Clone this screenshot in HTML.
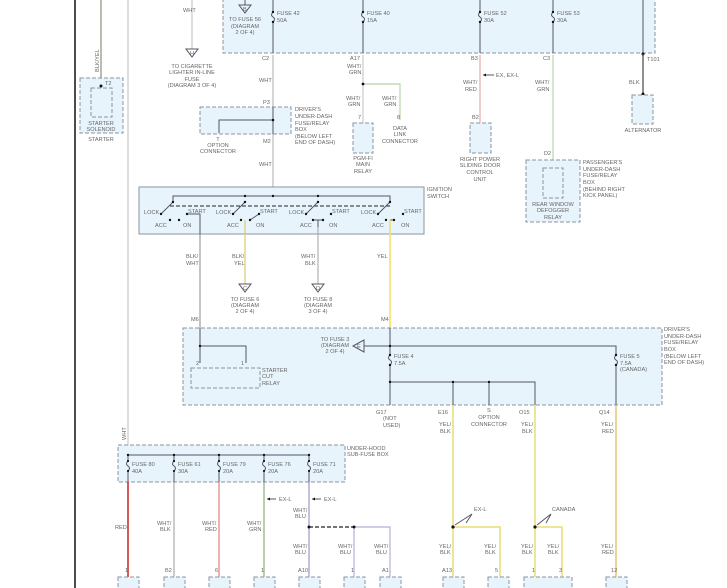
<!DOCTYPE html>
<html><head><meta charset="utf-8"><style>
html,body{margin:0;padding:0;background:#fff;}
svg{display:block;}
text{font-family:"Liberation Sans",sans-serif;font-size:5.6px;fill:#666;}
.bx{fill:#e8f4fc;stroke:#8896a2;stroke-width:1;stroke-dasharray:4,2;}
.sb{fill:#e8f4fc;stroke:#8896a2;stroke-width:1;}
.w{fill:none;stroke:#556;stroke-width:1;}
.d{fill:#111;}
</style></head><body>
<svg width="727" height="588" viewBox="0 0 727 588" xmlns="http://www.w3.org/2000/svg">
<rect width="727" height="588" fill="#fff"/>
<line x1="75" y1="0" x2="75" y2="588" stroke="#111" stroke-width="1.5"/>

<!-- top box -->
<rect class="bx" x="223" y="-4" width="432" height="57"/>
<g class="w">
<line x1="273" y1="0" x2="273" y2="12"/><path d="M273 12 q-3 3 0 5 q3 2 0 5"/><line x1="273" y1="22" x2="273" y2="53"/>
<line x1="363" y1="0" x2="363" y2="12"/><path d="M363 12 q-3 3 0 5 q3 2 0 5"/><line x1="363" y1="22" x2="363" y2="53"/>
<line x1="480" y1="0" x2="480" y2="12"/><path d="M480 12 q-3 3 0 5 q3 2 0 5"/><line x1="480" y1="22" x2="480" y2="53"/>
<line x1="553" y1="0" x2="553" y2="12"/><path d="M553 12 q-3 3 0 5 q3 2 0 5"/><line x1="553" y1="22" x2="553" y2="53"/>
<line x1="643" y1="0" x2="643" y2="55"/>
<line x1="245" y1="0" x2="245" y2="5"/><path d="M239 5 L251 5 L245 13 Z"/>
</g>
<g class="d"><circle cx="273" cy="12" r="1.2"/><circle cx="273" cy="22" r="1.2"/><circle cx="363" cy="12" r="1.2"/><circle cx="363" cy="22" r="1.2"/><circle cx="480" cy="12" r="1.2"/><circle cx="480" cy="22" r="1.2"/><circle cx="553" cy="12" r="1.2"/><circle cx="553" cy="22" r="1.2"/><circle cx="643" cy="54" r="1.5"/></g>
<text x="243" y="11" font-size="4.5">B</text>
<text x="245" y="21" text-anchor="middle">TO FUSE 56</text><text x="245" y="28" text-anchor="middle">(DIAGRAM</text><text x="245" y="34" text-anchor="middle">2 OF 4)</text>
<text x="277" y="15">FUSE 42</text><text x="277" y="22">50A</text>
<text x="367" y="15">FUSE 40</text><text x="367" y="22">15A</text>
<text x="484" y="15">FUSE 52</text><text x="484" y="22">30A</text>
<text x="557" y="15">FUSE 53</text><text x="557" y="22">30A</text>

<!-- cigarette -->
<line x1="192" y1="0" x2="192" y2="49" stroke="#ccc" stroke-width="1.3"/>
<path d="M186 49 L198 49 L192 57 Z" class="w"/><text x="190" y="55" font-size="4.5">H</text>
<text x="183" y="12">WHT</text>
<text x="192" y="68" text-anchor="middle">TO CIGARETTE</text><text x="192" y="74" text-anchor="middle">LIGHTER IN-LINE</text><text x="192" y="81" text-anchor="middle">FUSE</text><text x="192" y="87" text-anchor="middle">(DIAGRAM 3 OF 4)</text>

<!-- starter -->
<line x1="101" y1="0" x2="101" y2="86" stroke="#776" stroke-width="1"/>
<line x1="128" y1="0" x2="128" y2="455" stroke="#ccc" stroke-width="1.3"/>
<text transform="translate(99,72) rotate(-90)" font-size="5">BLK/YEL</text>
<rect class="bx" x="80" y="78" width="43" height="55"/>
<rect class="bx" x="91" y="88" width="21" height="29"/>
<circle cx="101" cy="86" r="1.5" class="d"/><text x="105" y="85">T2</text>
<text x="101" y="125" text-anchor="middle">STARTER</text><text x="101" y="131" text-anchor="middle">SOLENOID</text><text x="101" y="141" text-anchor="middle">STARTER</text>

<!-- C2 path -->
<line x1="273" y1="55" x2="273" y2="196" stroke="#bbb" stroke-width="1.2"/>
<text x="262" y="60">C2</text><text x="259" y="82">WHT</text><text x="259" y="166">WHT</text>
<rect class="bx" x="200" y="107" width="91" height="27"/>
<path class="w" d="M273 107 V134 M273 120 H219 V133"/><circle cx="273" cy="120" r="1.3" class="d"/>
<text x="263" y="104">P3</text><text x="263" y="143">M2</text>
<text x="218" y="141" text-anchor="middle">T</text><text x="218" y="147" text-anchor="middle">OPTION</text><text x="218" y="153" text-anchor="middle">CONNECTOR</text>
<text x="295" y="111">DRIVER'S</text><text x="295" y="118">UNDER-DASH</text><text x="295" y="125">FUSE/RELAY</text><text x="295" y="131">BOX</text><text x="295" y="138">(BELOW LEFT</text><text x="295" y="144">END OF DASH)</text>

<!-- A17 -->
<line x1="363" y1="55" x2="363" y2="123" stroke="#ccc" stroke-width="1.2"/>
<path d="M363 84 H400 V120" fill="none" stroke="#b8d4a8" stroke-width="1.2"/><circle cx="363" cy="84" r="1.4" class="d"/>
<text x="350" y="60">A17</text><text x="347" y="68">WHT/</text><text x="349" y="74">GRN</text>
<text x="346" y="100">WHT/</text><text x="348" y="106">GRN</text>
<text x="382" y="100">WHT/</text><text x="384" y="106">GRN</text>
<rect class="bx" x="353" y="123" width="20" height="30"/><text x="358" y="119">7</text>
<text x="363" y="160" text-anchor="middle">PGM-FI</text><text x="363" y="166" text-anchor="middle">MAIN</text><text x="363" y="173" text-anchor="middle">RELAY</text>
<text x="397" y="119">8</text><text x="400" y="130" text-anchor="middle">DATA</text><text x="400" y="136" text-anchor="middle">LINK</text><text x="400" y="143" text-anchor="middle">CONNECTOR</text>

<!-- B3 -->
<line x1="480" y1="55" x2="480" y2="123" stroke="#e8a8a8" stroke-width="1.2"/>
<path class="w" d="M483 75 H494"/><path d="M483 75 l3 -1.5 v3z" class="d"/>
<text x="496" y="77">EX, EX-L</text><text x="471" y="60">B3</text>
<text x="463" y="84">WHT/</text><text x="465" y="91">RED</text>
<rect class="bx" x="470" y="123" width="21" height="30"/><text x="472" y="119">B2</text>
<text x="480" y="161" text-anchor="middle">RIGHT POWER</text><text x="480" y="167" text-anchor="middle">SLIDING DOOR</text><text x="480" y="174" text-anchor="middle">CONTROL</text><text x="480" y="181" text-anchor="middle">UNIT</text>

<!-- C3 -->
<line x1="553" y1="55" x2="553" y2="168" stroke="#b8d4a8" stroke-width="1.2"/>
<text x="543" y="60">C3</text><text x="535" y="84">WHT/</text><text x="537" y="91">GRN</text><text x="544" y="155">D2</text>
<rect class="bx" x="526" y="160" width="54" height="62"/><rect class="bx" x="543" y="168" width="20" height="30"/>
<text x="553" y="206" text-anchor="middle">REAR WINDOW</text><text x="553" y="212" text-anchor="middle">DEFOGGER</text><text x="553" y="219" text-anchor="middle">RELAY</text>
<text x="583" y="164">PASSENGER'S</text><text x="583" y="171">UNDER-DASH</text><text x="583" y="177">FUSE/RELAY</text><text x="583" y="184">BOX</text><text x="583" y="191">(BEHIND RIGHT</text><text x="583" y="197">KICK PANEL)</text>

<!-- T101 -->
<line x1="643" y1="54" x2="643" y2="94" stroke="#555" stroke-width="1.3"/><circle cx="643" cy="94" r="1.5" class="d"/>
<text x="647" y="61">T101</text><text x="629" y="84">BLK</text>
<rect class="bx" x="632" y="95" width="21" height="29"/>
<text x="643" y="132" text-anchor="middle">ALTERNATOR</text>

<!-- ignition switch -->
<rect class="sb" x="139" y="187" width="285" height="47"/>
<text x="427" y="191">IGNITION</text><text x="427" y="198">SWITCH</text>
<path class="w" d="M173 202 V196 H390 V202"/>
<line x1="170" y1="206" x2="392" y2="206" stroke="#222" stroke-width="1" stroke-dasharray="4,2"/>
<g class="w">
<path d="M173 202 L161 214"/><path d="M245 202 L233 214"/><path d="M318 202 L306 214"/><path d="M390 202 L378 214"/>
<path d="M187 214 H200 V321"/>
<path d="M259 214 L250 220"/>
<path d="M313 220 H323 M318 220 V227 H318"/>
<path d="M394 220 H390"/>
</g>
<g class="d">
<circle cx="173" cy="202" r="1.2"/><circle cx="161" cy="214" r="1.2"/><circle cx="170" cy="220" r="1.2"/><circle cx="179" cy="220" r="1.2"/><circle cx="187" cy="214" r="1.2"/>
<circle cx="245" cy="196" r="1.2"/><circle cx="245" cy="202" r="1.2"/><circle cx="233" cy="214" r="1.2"/><circle cx="241" cy="220" r="1.2"/><circle cx="250" cy="220" r="1.2"/><circle cx="259" cy="214" r="1.2"/>
<circle cx="273" cy="196" r="1.2"/>
<circle cx="318" cy="196" r="1.2"/><circle cx="318" cy="202" r="1.2"/><circle cx="306" cy="214" r="1.2"/><circle cx="313" cy="220" r="1.2"/><circle cx="323" cy="220" r="1.2"/><circle cx="331" cy="214" r="1.2"/>
<circle cx="390" cy="202" r="1.2"/><circle cx="378" cy="214" r="1.2"/><circle cx="386" cy="220" r="1.2"/><circle cx="394" cy="220" r="1.2"/><circle cx="403" cy="214" r="1.2"/>
</g>
<g>
<text x="144" y="214">LOCK</text><text x="155" y="227">ACC</text><text x="183" y="227">ON</text><text x="188" y="213">START</text>
<text x="216" y="214">LOCK</text><text x="227" y="227">ACC</text><text x="256" y="227">ON</text><text x="260" y="213">START</text>
<text x="289" y="214">LOCK</text><text x="300" y="227">ACC</text><text x="329" y="227">ON</text><text x="332" y="213">START</text>
<text x="361" y="214">LOCK</text><text x="372" y="227">ACC</text><text x="401" y="227">ON</text><text x="404" y="213">START</text>
</g>
<line x1="245" y1="220" x2="245" y2="284" stroke="#d8cc70" stroke-width="1.2"/>
<line x1="318" y1="227" x2="318" y2="284" stroke="#aaa" stroke-width="1.1"/>
<line x1="390" y1="220" x2="390" y2="328" stroke="#f0e060" stroke-width="1.5"/>
<line x1="200" y1="234" x2="200" y2="328" stroke="#888" stroke-width="1"/>
<text x="186" y="258">BLK/</text><text x="186" y="265">WHT</text>
<text x="232" y="258">BLK/</text><text x="234" y="265">YEL</text>
<text x="301" y="258">WHT/</text><text x="305" y="265">BLK</text>
<text x="377" y="258">YEL</text>
<path class="w" d="M239 284 L251 284 L245 292 Z"/><text x="243" y="290" font-size="4.5">C</text>
<path class="w" d="M312 284 L324 284 L318 292 Z"/><text x="316" y="290" font-size="4.5">D</text>
<text x="245" y="301" text-anchor="middle">TO FUSE 6</text><text x="245" y="307" text-anchor="middle">(DIAGRAM</text><text x="245" y="313" text-anchor="middle">2 OF 4)</text>
<text x="318" y="301" text-anchor="middle">TO FUSE 8</text><text x="318" y="307" text-anchor="middle">(DIAGRAM</text><text x="318" y="313" text-anchor="middle">3 OF 4)</text>
<text x="191" y="321">M6</text><text x="381" y="321">M4</text>

<!-- driver's box 2 -->
<rect class="bx" x="183" y="328" width="479" height="77"/>
<text x="664" y="331">DRIVER'S</text><text x="664" y="338">UNDER-DASH</text><text x="664" y="344">FUSE/RELAY</text><text x="664" y="351">BOX</text><text x="664" y="358">(BELOW LEFT</text><text x="664" y="364">END OF DASH)</text>
<g class="w">
<path d="M200 328 V363 M200 346 H246 V363"/>
<path d="M390 328 V355"/><path d="M390 355 q-3 3 0 5 q3 2 0 5"/><path d="M390 365 V405"/>
<path d="M364 346 H616 V355"/><path d="M616 355 q-3 3 0 5 q3 2 0 5"/><path d="M616 365 V405"/>
<path d="M390 382 H535 V405 M453 382 V405 M489 382 V405"/>
<path d="M353 346 L364 340 L364 352 Z"/>
</g>
<text x="357" y="348" font-size="4.5">E</text>
<g class="d"><circle cx="200" cy="346" r="1.2"/><circle cx="390" cy="346" r="1.2"/><circle cx="390" cy="355" r="1.2"/><circle cx="390" cy="365" r="1.2"/><circle cx="390" cy="382" r="1.2"/><circle cx="453" cy="382" r="1.2"/><circle cx="489" cy="382" r="1.2"/><circle cx="616" cy="355" r="1.2"/><circle cx="616" cy="365" r="1.2"/></g>
<rect class="bx" x="191" y="368" width="69" height="20"/>
<text x="196" y="365">2</text><text x="241" y="365">1</text>
<text x="262" y="372">STARTER</text><text x="262" y="378">CUT</text><text x="262" y="385">RELAY</text>
<text x="335" y="341" text-anchor="middle">TO FUSE 3</text><text x="335" y="347" text-anchor="middle">(DIAGRAM</text><text x="335" y="353" text-anchor="middle">2 OF 4)</text>
<text x="394" y="358">FUSE 4</text><text x="394" y="365">7.5A</text>
<text x="620" y="358">FUSE 5</text><text x="620" y="365">7.5A</text><text x="620" y="371">(CANADA)</text>
<text x="376" y="414">G17</text><text x="383" y="420">(NOT</text><text x="383" y="427">USED)</text>
<text x="438" y="414">E16</text><text x="487" y="412">S</text><text x="489" y="419" text-anchor="middle">OPTION</text><text x="489" y="426" text-anchor="middle">CONNECTOR</text>
<text x="519" y="414">O15</text><text x="599" y="414">Q14</text>

<!-- bottom right wires -->
<g fill="none" stroke="#e8de70" stroke-width="1.5">
<path d="M453 405 V578"/><path d="M453 527 H500 V578"/>
<path d="M535 405 V578"/><path d="M535 527 H562 V578"/>
</g>
<line x1="616" y1="405" x2="616" y2="578" stroke="#e4c870" stroke-width="1.5"/>
<circle cx="453" cy="527" r="1.6" class="d"/><circle cx="535" cy="527" r="1.6" class="d"/>
<path class="w" d="M472 514 L455 525 M472 514 L466 523"/><text x="474" y="511">EX-L</text>
<path class="w" d="M551 514 L537 525 M551 514 L546 523"/><text x="552" y="511">CANADA</text>
<text x="439" y="426">YEL/</text><text x="440" y="433">BLK</text>
<text x="521" y="426">YEL/</text><text x="522" y="433">BLK</text>
<text x="601" y="426">YEL/</text><text x="602" y="433">RED</text>
<text x="439" y="548">YEL/</text><text x="440" y="554">BLK</text>
<text x="484" y="548">YEL/</text><text x="485" y="554">BLK</text>
<text x="521" y="548">YEL/</text><text x="522" y="554">BLK</text>
<text x="547" y="548">YEL/</text><text x="548" y="554">BLK</text>
<text x="601" y="548">YEL/</text><text x="602" y="554">RED</text>
<text x="442" y="572">A13</text><text x="495" y="572">5</text><text x="532" y="572">1</text><text x="559" y="572">3</text><text x="611" y="572">12</text>

<!-- under hood sub-fuse -->
<text transform="translate(126,440) rotate(-90)" font-size="5">WHT</text>
<rect class="bx" x="118" y="445" width="227" height="37"/>
<text x="347" y="450">UNDER-HOOD</text><text x="347" y="456">SUB-FUSE BOX</text>
<path class="w" d="M128 455 H309"/>
<g class="w">
<path d="M128 455 V461 q-3 3 0 5 q3 2 0 5 V482"/>
<path d="M174 455 V461 q-3 3 0 5 q3 2 0 5 V482"/>
<path d="M219 455 V461 q-3 3 0 5 q3 2 0 5 V482"/>
<path d="M264 455 V461 q-3 3 0 5 q3 2 0 5 V482"/>
<path d="M309 455 V461 q-3 3 0 5 q3 2 0 5 V482"/>
</g>
<g class="d"><circle cx="128" cy="455" r="1.2"/><circle cx="174" cy="455" r="1.2"/><circle cx="219" cy="455" r="1.2"/><circle cx="264" cy="455" r="1.2"/><circle cx="309" cy="455" r="1.2"/>
<circle cx="128" cy="461" r="1.1"/><circle cx="128" cy="471" r="1.1"/><circle cx="174" cy="461" r="1.1"/><circle cx="174" cy="471" r="1.1"/><circle cx="219" cy="461" r="1.1"/><circle cx="219" cy="471" r="1.1"/><circle cx="264" cy="461" r="1.1"/><circle cx="264" cy="471" r="1.1"/><circle cx="309" cy="461" r="1.1"/><circle cx="309" cy="471" r="1.1"/></g>
<text x="132" y="466">FUSE 80</text><text x="132" y="473">40A</text>
<text x="178" y="466">FUSE 61</text><text x="178" y="473">30A</text>
<text x="223" y="466">FUSE 79</text><text x="223" y="473">20A</text>
<text x="268" y="466">FUSE 76</text><text x="268" y="473">20A</text>
<text x="313" y="466">FUSE 71</text><text x="313" y="473">20A</text>
<line x1="128" y1="482" x2="128" y2="578" stroke="#cc2222" stroke-width="1.5"/>
<line x1="174" y1="482" x2="174" y2="578" stroke="#aaa" stroke-width="1.2"/>
<line x1="219" y1="482" x2="219" y2="578" stroke="#e08080" stroke-width="1.2"/>
<line x1="264" y1="482" x2="264" y2="578" stroke="#8cae78" stroke-width="1.2"/>
<line x1="309" y1="482" x2="309" y2="578" stroke="#9a9ac8" stroke-width="1.2"/>
<path d="M309 527 H354" stroke="#222" stroke-width="1.3" stroke-dasharray="4,2" fill="none"/>
<path d="M354 527 V578 M354 527 H390 V578" fill="none" stroke="#b0b0d8" stroke-width="1.2"/>
<circle cx="309" cy="527" r="1.5" class="d"/><circle cx="354" cy="527" r="1.5" class="d"/>
<path class="w" d="M267 499 H276 M312 499 H321"/><path d="M267 499 l3 -1.5 v3z M312 499 l3 -1.5 v3z" class="d"/>
<text x="279" y="501">EX-L</text><text x="324" y="501">EX-L</text>
<text x="293" y="512">WHT/</text><text x="295" y="518">BLU</text>
<text x="115" y="529">RED</text>
<text x="157" y="525">WHT/</text><text x="160" y="531">BLK</text>
<text x="202" y="525">WHT/</text><text x="205" y="531">RED</text>
<text x="247" y="525">WHT/</text><text x="249" y="531">GRN</text>
<text x="293" y="548">WHT/</text><text x="295" y="554">BLU</text>
<text x="338" y="548">WHT/</text><text x="340" y="554">BLU</text>
<text x="374" y="548">WHT/</text><text x="376" y="554">BLU</text>
<text x="125" y="572">1</text><text x="165" y="572">B2</text><text x="215" y="572">6</text><text x="261" y="572">1</text><text x="298" y="572">A10</text><text x="351" y="572">1</text><text x="382" y="572">A1</text>
<g class="bx">
<rect x="118" y="577" width="21" height="20"/><rect x="164" y="577" width="21" height="20"/><rect x="209" y="577" width="21" height="20"/><rect x="254" y="577" width="21" height="20"/><rect x="299" y="577" width="21" height="20"/><rect x="344" y="577" width="21" height="20"/><rect x="380" y="577" width="21" height="20"/>
<rect x="443" y="577" width="21" height="20"/><rect x="488" y="577" width="21" height="20"/><rect x="524" y="577" width="48" height="20"/><rect x="606" y="577" width="21" height="20"/>
</g>
</svg>
</body></html>
